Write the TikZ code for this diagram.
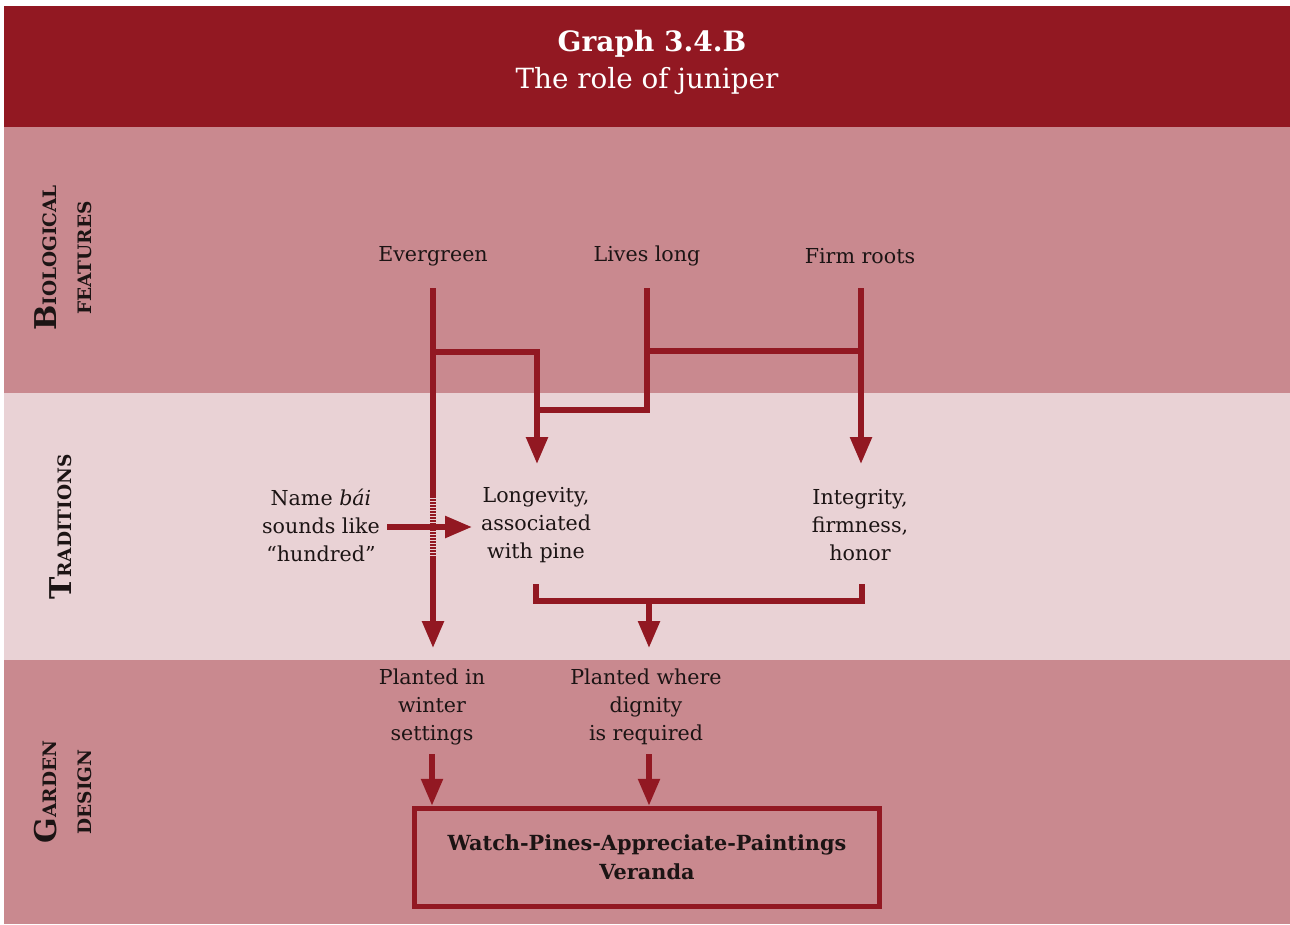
\documentclass[tikz,border=0pt]{standalone}
\usepackage{fontspec}
\setmainfont{DejaVu Serif}
\usetikzlibrary{arrows.meta,calc}
\definecolor{wine}{HTML}{921822}
\definecolor{rosebg}{HTML}{C9898F}
\definecolor{palebg}{HTML}{E9D2D5}
\definecolor{ink}{HTML}{1C1414}
% large initial followed by small capitals
\newcommand{\bandcap}[2]{{\fontsize{30}{35}\selectfont #1}#2}

\begin{document}
\begin{tikzpicture}[x=1pt,y=-1pt,
  body/.style={font=\fontsize{20.6}{28}\selectfont, text=ink, align=center, inner sep=0pt},
  band/.style={font=\fontsize{18.5}{35}\selectfont\bfseries, text=ink, align=center, rotate=90, inner sep=0pt},
  link/.style={wine, line width=5.5pt},
  arr/.style={link, -{Triangle[width=21pt,length=27pt]}},
]
\useasboundingbox (0,0) rectangle (1290,924);
\fill[white] (0,0) rectangle (1290,924);

% background bands
\fill[wine]   (4,6)   rectangle (1290,127);
\fill[rosebg] (4,127) rectangle (1290,393);
\fill[palebg] (4,393) rectangle (1290,660);
\fill[rosebg] (4,660) rectangle (1290,924);

% heading
\node[text=white, font=\fontsize{28}{32}\selectfont\bfseries, inner sep=0pt] (title) at (652,44) {Graph 3.4.B};
\node[text=white, font=\fontsize{27.8}{32}\selectfont, inner sep=0pt] (subtitle) at (647,81) {The role of juniper};

% band labels
\node[band] (bio)  at (63,258) {\bandcap{B}{IOLOGICAL}\\FEATURES};
\node[band] (trad) at (61,527) {\bandcap{T}{RADITIONS}};
\node[band] (gard) at (63,792) {\bandcap{G}{ARDEN}\\DESIGN};

% biological features
\node[body] (ever)  at (433,256) {Evergreen};
\node[body] (lives) at (647,256) {Lives long};
\node[body] (firm)  at (860,256) {Firm roots};

% traditions
\node[body] (name)   at (321,525) {Name \emph{bái}\\sounds like\\“hundred”};
\node[body] (longev) at (536,525) {Longevity,\\associated\\with pine};
\node[body] (integ)  at (860,525) {Integrity,\\firmness,\\honor};

% garden design
\node[body] (winter)  at (432,707) {Planted in\\winter\\settings};
\node[body] (dignity) at (646,707) {Planted where\\dignity\\is required};
\node[draw=wine, line width=5.5pt, minimum width=465pt, minimum height=98pt,
      font=\fontsize{20.8}{29}\selectfont\bfseries, text=ink, align=center]
      (veranda) at (647,857.5) {Watch-Pines-Appreciate-Paintings\\Veranda};

% connector end points
\coordinate (ev-top)  at (433,288);
\coordinate (ev-tip)  at (433,648);
\coordinate (ev-fork) at (433,352);
\coordinate (lv-top)  at (647,288);
\coordinate (lv-fork) at (647,351);
\coordinate (fr-top)  at (861,288);
\coordinate (fr-tip)  at (861,464);
\coordinate (lg-tip)  at (537,464);
\coordinate (lg-join) at (537,410);
\coordinate (nm-tail) at (387,527);
\coordinate (nm-tip)  at (472,527);
\coordinate (br-left) at (536,584);
\coordinate (br-right) at (862,584);
\coordinate (br-mid)  at (649,601);
\coordinate (dg-tip)  at (649,648);
\coordinate (wi-tail) at (432,754);
\coordinate (dg-tail) at (649,754);

% evergreen line down to winter settings
\draw[arr] (ev-top) -- (ev-tip);
% faded stretch where the name arrow crosses
\draw[palebg, line width=5.9pt, dash pattern=on 1.3pt off 1.7pt] (433,498) -- (433,556);

% evergreen and lives long feed longevity
\draw[arr] (ev-fork) -| (lg-tip);
\draw[link] (lv-top) |- (lg-join);
% firm roots to integrity, joined with lives long
\draw[arr] (fr-top) -- (fr-tip);
\draw[link] (lv-fork) -- (fr-top |- lv-fork);

% name sounds like hundred
\draw[arr] (nm-tail) -- (nm-tip);

% longevity and integrity together
\draw[link] (br-left) |- (br-right |- br-mid) -- (br-right);
\draw[arr] (br-mid) -- (dg-tip);

% into the veranda
\draw[arr] (wi-tail) -- (wi-tail |- veranda.north);
\draw[arr] (dg-tail) -- (dg-tail |- veranda.north);
\end{tikzpicture}
\end{document}
